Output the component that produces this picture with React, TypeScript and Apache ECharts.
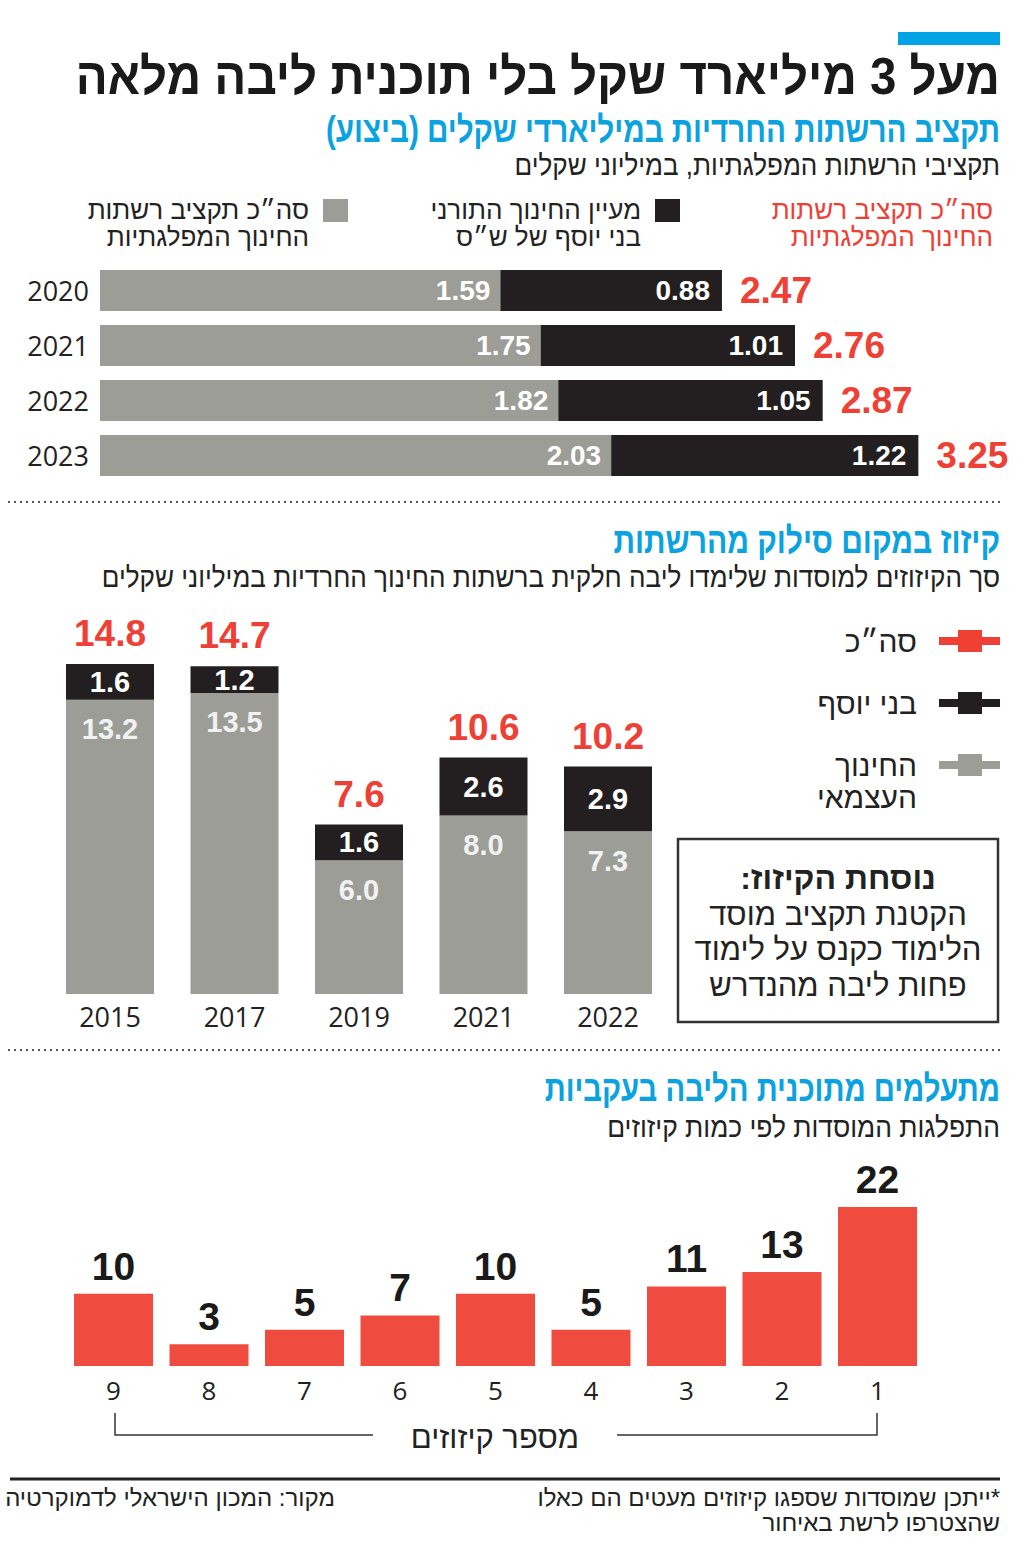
import React, { useEffect, useRef } from 'react';
import * as echarts from 'echarts';

// ---------- DATA ----------
const years1 = ['2020', '2021', '2022', '2023'];
const grayBudget = [1.59, 1.75, 1.82, 2.03];
const blackBudget = [0.88, 1.01, 1.05, 1.22];
const totalBudget = [2.47, 2.76, 2.87, 3.25];

const years2 = ['2015', '2017', '2019', '2021', '2022'];
const offsetGray = [13.2, 13.5, 6.0, 8.0, 7.3];
const offsetBlack = [1.6, 1.2, 1.6, 2.6, 2.9];
const offsetTotal = [14.8, 14.7, 7.6, 10.6, 10.2];

const offsetCounts = ['9', '8', '7', '6', '5', '4', '3', '2', '1'];
const institutions = [10, 3, 5, 7, 10, 5, 11, 13, 22];

// ---------- STYLE ----------
const RED = '#ee4035';
const BLACK = '#231f20';
const GRAY = '#9d9d98';
const BLUE = '#0aa2df';
const HEB = "'Liberation Sans Narrow','Liberation Sans','DejaVu Sans',sans-serif";
const NUM = "'Liberation Sans Narrow','Liberation Sans',sans-serif";
const TICK = "'Open Sans','Liberation Sans',sans-serif";
const RLM = '\u200F';

function txt(x: number, y: number, text: string, o: any = {}) {
  const align = o.align || 'right';
  return {
    type: 'text',
    x,
    y,
    scaleX: o.scaleX || 1,
    style: {
      text,
      fill: o.color || '#222',
      fontSize: o.size || 24,
      fontFamily: o.family || HEB,
      fontWeight: o.weight || 'normal',
      align,
      textAlign: align,
      verticalAlign: 'middle',
      textVerticalAlign: 'middle',
    },
  };
}

function legendMark(y: number, color: string) {
  return [
    { type: 'rect', shape: { x: 939, y: y - 4, width: 61, height: 8 }, style: { fill: color } },
    { type: 'rect', shape: { x: 958, y: y - 11, width: 24, height: 22 }, style: { fill: color } },
  ];
}

export default function App() {
  const ref = useRef<HTMLDivElement>(null);
  useEffect(() => {
    if (!ref.current) return;
    const chart = echarts.init(ref.current, null, { renderer: 'svg' });

    const graphic: any[] = [
      // header
      { type: 'rect', shape: { x: 898, y: 32, width: 102, height: 13 }, style: { fill: '#00a3e6' } },
      txt(1000, 76, 'מעל 3 מיליארד שקל בלי תוכנית ליבה מלאה', { size: 51, weight: 'bold', color: '#1a1a1a', scaleX: 0.93 }),
      txt(1000, 129, 'תקציב הרשתות החרדיות במיליארדי שקלים (ביצוע)', { size: 37, weight: 'bold', color: BLUE, scaleX: 0.8 }),
      txt(1000, 165, 'תקציבי הרשתות המפלגתיות, במיליוני שקלים', { size: 29, scaleX: 0.9 }),
      // legend 1
      txt(993, 210, 'סה״כ תקציב רשתות', { size: 26, color: RED }),
      txt(993, 237, 'החינוך המפלגתיות', { size: 26, color: RED }),
      { type: 'rect', shape: { x: 655, y: 199, width: 25, height: 23 }, style: { fill: BLACK } },
      txt(641, 210, 'מעיין החינוך התורני', { size: 26 }),
      txt(641, 237, 'בני יוסף של ש״ס', { size: 26 }),
      { type: 'rect', shape: { x: 323, y: 199, width: 25, height: 23 }, style: { fill: GRAY } },
      txt(309, 210, 'סה״כ תקציב רשתות', { size: 26 }),
      txt(309, 237, 'החינוך המפלגתיות', { size: 26 }),
      // separator
      { type: 'line', shape: { x1: 8, y1: 502, x2: 1000, y2: 502 }, style: { stroke: '#555', lineWidth: 2, lineDash: [2, 4] } },
      // section 2 titles
      txt(1000, 540, 'קיזוז במקום סילוק מהרשתות', { size: 37, weight: 'bold', color: BLUE, scaleX: 0.81 }),
      txt(1000, 577, 'סך הקיזוזים למוסדות שלימדו ליבה חלקית ברשתות החינוך החרדיות במיליוני שקלים', { size: 29, scaleX: 0.9 }),
      // legend 2
      ...legendMark(641, RED),
      txt(917, 641, 'סה״כ', { size: 30 }),
      ...legendMark(703, BLACK),
      txt(917, 703, 'בני יוסף', { size: 30 }),
      ...legendMark(765, GRAY),
      txt(917, 765, 'החינוך', { size: 30 }),
      txt(917, 797, 'העצמאי', { size: 30 }),
      // formula box
      { type: 'rect', shape: { x: 678, y: 839, width: 320, height: 183 }, style: { fill: 'none', stroke: '#333', lineWidth: 2.5 } },
      txt(838, 878, 'נוסחת הקיזוז:' + RLM, { size: 32, weight: 'bold', align: 'center' }),
      txt(838, 914, 'הקטנת תקציב מוסד', { size: 31, align: 'center' }),
      txt(838, 949, 'הלימוד כקנס על לימוד', { size: 31, align: 'center' }),
      txt(838, 985, 'פחות ליבה מהנדרש', { size: 31, align: 'center' }),
      // separator
      { type: 'line', shape: { x1: 8, y1: 1050, x2: 1000, y2: 1050 }, style: { stroke: '#555', lineWidth: 2, lineDash: [2, 4] } },
      // section 3 titles
      txt(1000, 1088, 'מתעלמים מתוכנית הליבה בעקביות', { size: 37, weight: 'bold', color: BLUE, scaleX: 0.79 }),
      txt(1000, 1127, 'התפלגות המוסדות לפי כמות קיזוזים', { size: 29, scaleX: 0.91 }),
      // bracket
      { type: 'polyline', shape: { points: [[115, 1413], [115, 1435], [373, 1435]] }, style: { fill: 'none', stroke: '#333', lineWidth: 1.5 } },
      { type: 'polyline', shape: { points: [[617, 1435], [877, 1435], [877, 1413]] }, style: { fill: 'none', stroke: '#333', lineWidth: 1.5 } },
      txt(495, 1437, 'מספר קיזוזים', { size: 31, align: 'center' }),
      // footer
      { type: 'line', shape: { x1: 10, y1: 1479, x2: 1000, y2: 1479 }, style: { stroke: '#222', lineWidth: 3 } },
      txt(335, 1497, 'מקור: המכון הישראלי לדמוקרטיה', { size: 24, align: 'right' }),
      txt(1000, 1497, RLM + '*ייתכן שמוסדות שספגו קיזוזים מעטים הם כאלו', { size: 24 }),
      txt(1000, 1522, 'שהצטרפו לרשת באיחור', { size: 24 }),
    ];

    const segLabel = (size: number, color: string, position: string, distance: number) => ({
      show: true,
      position,
      distance,
      color,
      fontFamily: NUM,
      fontWeight: 'bold',
      fontSize: size,
    });

    chart.setOption({
      animation: false,
      backgroundColor: '#ffffff',
      grid: [
        { left: 100, top: 263, width: 906.5, height: 220 },
        { left: 47.75, top: 592.6, width: 622.5, height: 401.4 },
        { left: 65.75, top: 1192.5, width: 859.5, height: 173.5 },
      ],
      xAxis: [
        { gridIndex: 0, type: 'value', min: 0, max: 3.6, show: false },
        {
          gridIndex: 1, type: 'category', data: years2,
          axisLine: { show: false }, axisTick: { show: false },
          axisLabel: { color: '#222', fontSize: 27, fontFamily: TICK, margin: 9 },
        },
        {
          gridIndex: 2, type: 'category', data: offsetCounts,
          axisLine: { show: false }, axisTick: { show: false },
          axisLabel: { color: '#222', fontSize: 26, fontFamily: TICK, margin: 11 },
        },
      ],
      yAxis: [
        {
          gridIndex: 0, type: 'category', data: years1, inverse: true,
          axisLine: { show: false }, axisTick: { show: false },
          axisLabel: { color: '#222', fontSize: 27, fontFamily: TICK, margin: 11 },
        },
        { gridIndex: 1, type: 'value', min: 0, max: 18, show: false },
        { gridIndex: 2, type: 'value', min: 0, max: 24, show: false },
      ],
      graphic,
      series: [
        {
          type: 'bar', xAxisIndex: 0, yAxisIndex: 0, stack: 'a', barWidth: 41,
          data: grayBudget, itemStyle: { color: GRAY },
          label: { ...segLabel(28, '#ffffff', 'insideRight', 10), formatter: (p: any) => p.value.toFixed(2) },
        },
        {
          type: 'bar', xAxisIndex: 0, yAxisIndex: 0, stack: 'a', barWidth: 41,
          data: blackBudget, itemStyle: { color: BLACK },
          label: { ...segLabel(28, '#ffffff', 'insideRight', 12), formatter: (p: any) => p.value.toFixed(2) },
        },
        {
          type: 'bar', xAxisIndex: 0, yAxisIndex: 0, stack: 'a', barWidth: 41,
          data: totalBudget.map(() => 0), itemStyle: { color: 'transparent' },
          label: { ...segLabel(37, RED, 'right', 18), formatter: (p: any) => totalBudget[p.dataIndex].toFixed(2) },
        },
        {
          type: 'bar', xAxisIndex: 1, yAxisIndex: 1, stack: 'b', barWidth: 88,
          data: offsetGray, itemStyle: { color: GRAY },
          label: { ...segLabel(29, '#f2f2f2', 'insideTop', 15), formatter: (p: any) => p.value.toFixed(1) },
        },
        {
          type: 'bar', xAxisIndex: 1, yAxisIndex: 1, stack: 'b', barWidth: 88,
          data: offsetBlack, itemStyle: { color: BLACK },
          label: { ...segLabel(29, '#ffffff', 'inside', 0), formatter: (p: any) => p.value.toFixed(1) },
        },
        {
          type: 'bar', xAxisIndex: 1, yAxisIndex: 1, stack: 'b', barWidth: 88,
          data: offsetTotal.map(() => 0), itemStyle: { color: 'transparent' },
          label: { ...segLabel(37, RED, 'top', 12), formatter: (p: any) => offsetTotal[p.dataIndex].toFixed(1) },
        },
        {
          type: 'bar', xAxisIndex: 2, yAxisIndex: 2, barWidth: 79,
          data: institutions, itemStyle: { color: '#ef4b3f' },
          label: segLabel(39, '#1a1a1a', 'top', 8),
        },
      ],
    });
    return () => chart.dispose();
  }, []);

  return (
    <div
      ref={ref}
      style={{ position: 'absolute', left: 0, top: 0, width: 1024, height: 1545, background: '#fff' }}
    />
  );
}
